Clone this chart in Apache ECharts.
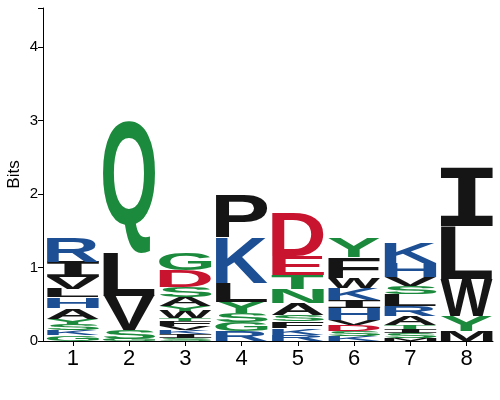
<!DOCTYPE html>
<html>
<head>
<meta charset="utf-8">
<script src="https://cdn.jsdelivr.net/npm/echarts@6/dist/echarts.min.js"></script>
<style>
html,body{margin:0;padding:0;background:#fff;}
#chart{width:500px;height:400px;}
</style>
</head>
<body>
<div id="chart"></div>
<script>
// positions on the x axis
var positions = [1, 2, 3, 4, 5, 6, 7, 8];
// letters of each column, from bottom to top
var logoLetters = [
	'GKSYAHLVIR',
	'GSVLQ',
	'SIKVFTWYASDG',
	'RGSYLKP',
	'RKFSANTED',
	'KSDVHIKWFY',
	'MSITARLSVHK',
	'MYWLI'
];
// height (bits) of each letter, same order as logoLetters
var logoBits = [
	[0.075, 0.068, 0.095, 0.068, 0.143, 0.143, 0.122, 0.156, 0.211, 0.333],
	[0.027, 0.122, 0.463, 0.585, 1.796],
	[0.041, 0.054, 0.054, 0.054, 0.068, 0.041, 0.095, 0.068, 0.122, 0.136, 0.231, 0.231],
	[0.136, 0.122, 0.122, 0.150, 0.259, 0.612, 0.585],
	[0.082, 0.095, 0.095, 0.082, 0.163, 0.190, 0.190, 0.259, 0.585],
	[0.068, 0.068, 0.082, 0.068, 0.163, 0.109, 0.163, 0.136, 0.286, 0.259],
	[0.041, 0.068, 0.054, 0.054, 0.122, 0.136, 0.163, 0.109, 0.122, 0.190, 0.286],
	[0.136, 0.204, 0.503, 0.721, 0.803]
];
var yTicks = [0, 1, 2, 3, 4];

//配色：疏水黑，极性绿，碱性蓝，酸性红
var letterColor = function(ch)
{
	if('AVLIPWFM'.indexOf(ch) >= 0) return '#151515';
	if('GSTYCNQ'.indexOf(ch) >= 0) return '#1c8a3c';
	if('KRH'.indexOf(ch) >= 0) return '#1d4f94';
	return '#c8142f';
};

var FONT = 'bold 100px "Liberation Sans", Arial, sans-serif';
//I要带横线的，用等宽字体
var FONT_I = 'bold 100px "DejaVu Sans Mono", monospace';
var fontOf = function(ch){ return ch == 'I' ? FONT_I : FONT; };
var halfWidth = 0.465;

//量一下字形的实际边界，和zrender一样用middle基线、left对齐
var measureCanvas = document.createElement('canvas');
var measureCtx = measureCanvas.getContext('2d');
var glyphCache = {};
var measureGlyph = function(ch)
{
	if(glyphCache[ch]) return glyphCache[ch];
	measureCtx.font = fontOf(ch);
	measureCtx.textBaseline = 'middle';
	measureCtx.textAlign = 'left';
	var m = measureCtx.measureText(ch);
	var g = {
		left: m.actualBoundingBoxLeft,
		top: m.actualBoundingBoxAscent,
		w: m.actualBoundingBoxLeft + m.actualBoundingBoxRight,
		h: m.actualBoundingBoxAscent + m.actualBoundingBoxDescent
	};
	glyphCache[ch] = g;
	return g;
};

//堆叠：每个字母 [位置, 下沿, 上沿]
var stackData = [];
var stackGlyphs = [];
for(var i=0;i<positions.length;i++)
{
	var base = 0;
	for(var j=0;j<logoLetters[i].length;j++)
	{
		var h = logoBits[i][j];
		stackData.push([positions[i], base, base + h]);
		stackGlyphs.push(logoLetters[i].charAt(j));
		base += h;
	}
}

var renderLetter = function(params, api)
{
	var pos = api.value(0);
	var p0 = api.coord([pos - halfWidth, api.value(1)]);
	var p1 = api.coord([pos + halfWidth, api.value(2)]);
	var ch = stackGlyphs[params.dataIndex];
	var g = measureGlyph(ch);
	var sx = (p1[0] - p0[0]) / g.w;
	var sy = (p0[1] - p1[1]) / g.h;
	return {
		type: 'text',
		x: p0[0] + g.left * sx,
		y: p1[1] + g.top * sy,
		scaleX: sx,
		scaleY: sy,
		silent: true,
		style: {text: ch, font: fontOf(ch), fill: letterColor(ch), align: 'left', verticalAlign: 'middle'}
	};
};

var myChart = echarts.init(document.getElementById('chart'));
var option = {
	animation: false,
	backgroundColor: '#fff',
	//v6默认会把坐标轴名字挤进容器，这里不要
	grid: {left: 43, right: 7, top: 8, bottom: 59, outerBoundsMode: 'none', containLabel: false},
	xAxis: {
		type: 'value', min: 0.47, max: 8.47,
		axisLine: {lineStyle: {color: '#000', width: 1}},
		axisTick: {show: true, length: 5, lineStyle: {color: '#000'}, customValues: positions},
		axisLabel: {
			color: '#000', fontSize: 22, fontFamily: '"Liberation Sans", Arial, sans-serif', margin: 7,
			customValues: positions
		},
		splitLine: {show: false}
	},
	yAxis: {
		type: 'value', min: 0, max: 4.53, interval: 1,
		name: 'Bits', nameLocation: 'middle', nameGap: 20, nameMoveOverlap: false,
		nameTextStyle: {color: '#000', fontSize: 17, fontFamily: '"Liberation Sans", Arial, sans-serif'},
		axisLine: {show: true, lineStyle: {color: '#000', width: 1}},
		axisTick: {show: true, length: 5, lineStyle: {color: '#000'}},
		axisLabel: {
			color: '#000', fontSize: 15, fontFamily: '"Liberation Sans", Arial, sans-serif', margin: 5,
			formatter: function(v){ return yTicks.indexOf(v) >= 0 ? String(v) : ''; }
		},
		splitLine: {show: false}
	},
	series: [{
		type: 'custom',
		renderItem: renderLetter,
		data: stackData,
		clip: false,
		encode: {x: 0, y: [1, 2]}
	}]
};
myChart.setOption(option);
</script>
</body>
</html>
